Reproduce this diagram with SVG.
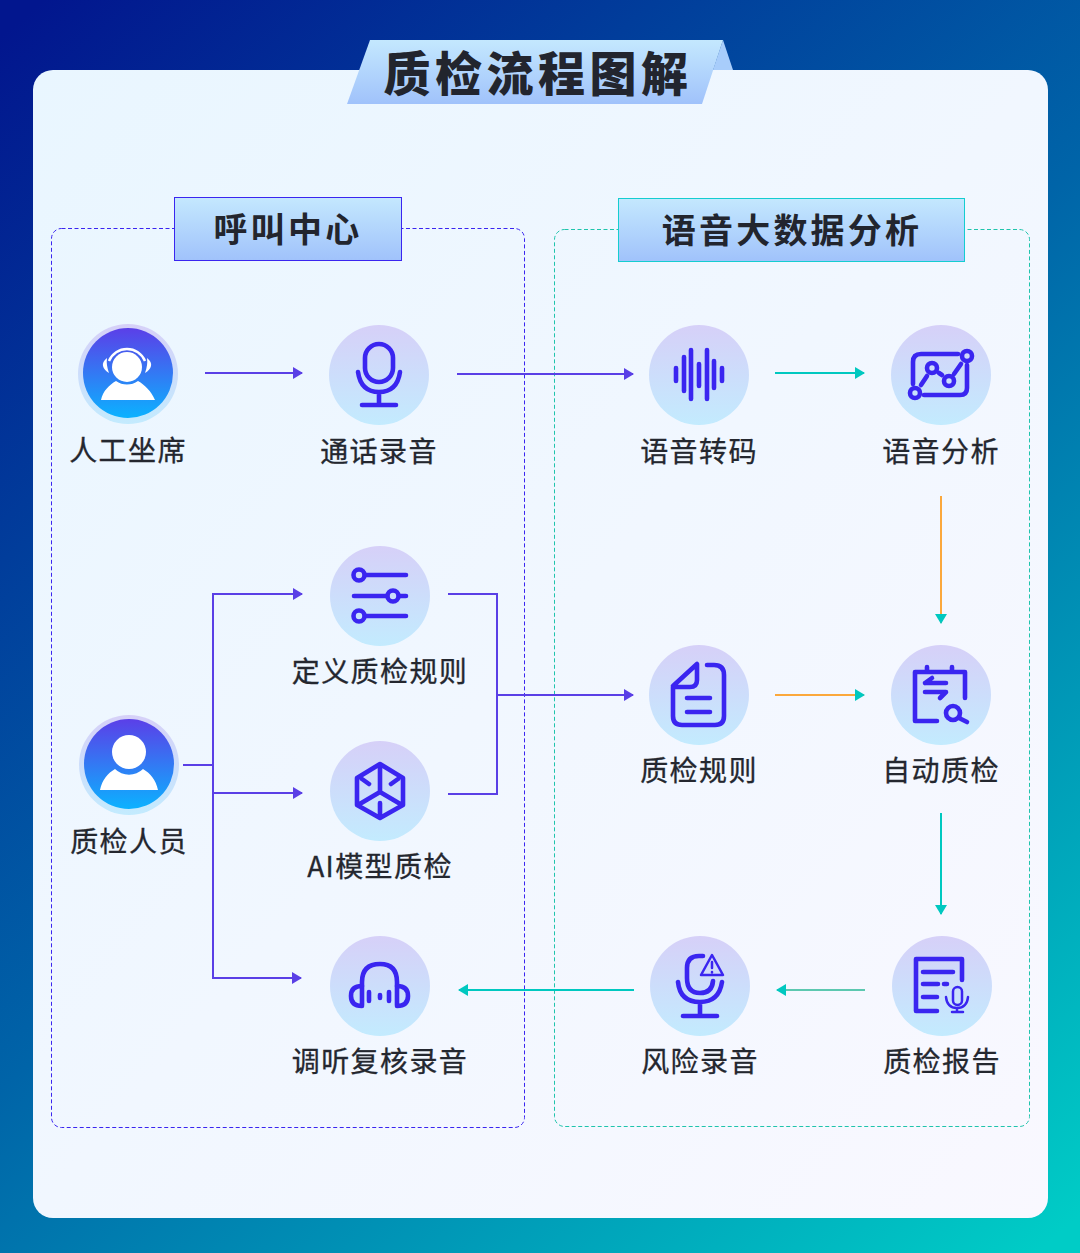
<svg xmlns="http://www.w3.org/2000/svg" width="1080" height="1253" viewBox="0 0 1080 1253">
<defs>
<linearGradient id="bg" gradientUnits="userSpaceOnUse" x1="20" y1="20" x2="1060" y2="1233"><stop offset="0" stop-color="#02168e"/><stop offset="0.5" stop-color="#0064a8"/><stop offset="1" stop-color="#00ccc6"/></linearGradient>
<linearGradient id="card" x1="0" y1="0" x2="1" y2="1"><stop offset="0" stop-color="#e9f6ff"/><stop offset="1" stop-color="#f9f8ff"/></linearGradient>
<linearGradient id="tag" x1="0" y1="0" x2="0" y2="1"><stop offset="0" stop-color="#c4e8fe"/><stop offset="1" stop-color="#a0c2fb"/></linearGradient>
<linearGradient id="disc" x1="0" y1="0" x2="0" y2="1"><stop offset="0" stop-color="#d6d0f8"/><stop offset="1" stop-color="#c3ebfe"/></linearGradient>
<linearGradient id="ava" x1="0" y1="0" x2="0" y2="1"><stop offset="0" stop-color="#5b3fe8"/><stop offset="1" stop-color="#0bb2ff"/></linearGradient>
<marker id="aP" markerUnits="userSpaceOnUse" markerWidth="10" markerHeight="12" refX="9" refY="6" orient="auto"><path d="M0 0L10 6L0 12Z" fill="#5a3fe6"/></marker>
<marker id="aT" markerUnits="userSpaceOnUse" markerWidth="10" markerHeight="12" refX="9" refY="6" orient="auto"><path d="M0 0L10 6L0 12Z" fill="#00c8c0"/></marker>
</defs>
<style>
.lb{font-family:"Noto Sans CJK SC","Noto Sans",sans-serif;font-size:28px;fill:#24272f;text-anchor:middle;letter-spacing:1.4px;font-weight:400;stroke:#24272f;stroke-width:0.300px}
.hd{font-family:"Noto Sans CJK SC",sans-serif;font-size:34px;font-weight:700;fill:#22252e;text-anchor:middle;letter-spacing:3.200px}
.ic{fill:none;stroke:#3a25f0;stroke-width:4.600;stroke-linecap:round;stroke-linejoin:round}
.ic3{fill:none;stroke:#3a25f0;stroke-width:2.500;stroke-linecap:round;stroke-linejoin:round}
.dc{fill:url(#disc)}
.cp{fill:none;stroke:#5a3fe6;stroke-width:2}
.ct{fill:none;stroke:#00c8c0;stroke-width:2}
.co{fill:none;stroke:#fba83c;stroke-width:2}
.cg{fill:none;stroke:#5cc8b0;stroke-width:2}
</style>
<rect width="1080" height="1253" fill="url(#bg)"/>
<path d="M723 40L733 70H713Z" fill="#a8cdfb"/>
<rect x="33" y="70" width="1015" height="1148" rx="20" fill="url(#card)"/>
<g id="title">
<path d="M370 40H723L702 104H347Z" fill="url(#tag)"/>
<text x="538" y="91" font-family="'Noto Sans CJK SC',sans-serif" font-size="47" font-weight="900" fill="#22252e" text-anchor="middle" letter-spacing="4.500">质检流程图解</text>
</g>
<g id="group-call">
<rect x="51.500" y="228.500" width="473" height="899" rx="10" fill="none" stroke="#3a25f0" stroke-dasharray="4 2.500"/>
<rect x="174.500" y="197.500" width="227" height="63" fill="url(#tag)" stroke="#3a25f0"/>
<text class="hd" x="288" y="242">呼叫中心</text>
</g>
<g id="group-speech">
<rect x="554.500" y="229.500" width="475" height="897" rx="10" fill="none" stroke="#1fc4ac" stroke-dasharray="4 2.500"/>
<rect x="618.500" y="198.500" width="346" height="63" fill="url(#tag)" stroke="#14cdd0"/>
<text class="hd" x="792" y="243">语音大数据分析</text>
</g>
<g id="connectors">
<path class="cp" d="M205 373H302" marker-end="url(#aP)"/>
<path class="cp" d="M457 374H633" marker-end="url(#aP)"/>
<path class="ct" d="M775 373H864" marker-end="url(#aT)"/>
<path class="co" d="M941 496V623" marker-end="url(#aT)"/>
<path class="ct" d="M941 813V914" marker-end="url(#aT)"/>
<path class="co" d="M775 695H864" marker-end="url(#aT)"/>
<path class="cg" d="M865 990H777" marker-end="url(#aT)"/>
<path class="ct" d="M634 990H459" marker-end="url(#aT)"/>
<path class="cp" d="M183 765H213"/>
<path class="cp" d="M213 594H302" marker-end="url(#aP)"/>
<path class="cp" d="M213 593V978H301" marker-end="url(#aP)"/>
<path class="cp" d="M213 793H302" marker-end="url(#aP)"/>
<path class="cp" d="M448 594H497V794H448"/>
<path class="cp" d="M497 695H633" marker-end="url(#aP)"/>
</g>
<g id="n-agent">
<circle cx="128" cy="374" r="50" class="dc"/><circle cx="128" cy="373" r="45" fill="url(#ava)"/>
<path d="M101 400C103 391 109 385 116 381A19 19 0 0 0 138 381C145 385 151 391 155 400Z" fill="#fff"/>
<circle cx="127" cy="367" r="15" fill="#fff"/>
<path d="M109 361A19.500 19.500 0 0 1 145 361" fill="none" stroke="#fff" stroke-width="2.500"/>
<path d="M107 358Q102 362 103 366Q104 370 109 373Q106 365 107 358ZM147 358Q152 362 151 366Q150 370 145 373Q148 365 147 358Z" fill="#fff"/>
<text class="lb" x="128" y="461">人工坐席</text>
</g>
<g id="n-record">
<circle cx="379" cy="375" r="50" class="dc"/>
<rect x="365" y="344" width="28" height="38" rx="14" class="ic"/>
<path class="ic" d="M358 372C360 386 368 392 379 392C390 392 398 386 400 372M379 392V405M362 405H396"/>
<text class="lb" x="379" y="462">通话录音</text>
</g>
<g id="n-transcode">
<circle cx="699" cy="375" r="50" class="dc"/>
<path class="ic" d="M676 368V381M684 357V391M691 350V399M699 364V386M707 350V399M714 361V388M722 368V381"/>
<text class="lb" x="699" y="462">语音转码</text>
</g>
<g id="n-analysis">
<circle cx="941" cy="375" r="50" class="dc"/>
<path class="ic" d="M913 384V362Q913 354 921 354H958M967 365V388Q967 395 960 395H924" />
<path class="ic" d="M921 385L927 376M939 373L942 375M954 374L961 364"/>
<circle cx="915" cy="393" r="5" class="ic"/><circle cx="932" cy="368" r="5" class="ic"/><circle cx="949" cy="381" r="5" class="ic"/><circle cx="967" cy="356" r="5" class="ic"/>
<text class="lb" x="941" y="462">语音分析</text>
</g>
<g id="n-define">
<circle cx="380" cy="596" r="50" class="dc"/>
<path class="ic" d="M366 575H406M354 596H387M400 596H406M366 616H406"/>
<circle cx="359" cy="575" r="5.500" class="ic"/><circle cx="393" cy="596" r="5.500" class="ic"/><circle cx="359" cy="616" r="5.500" class="ic"/>
<text class="lb" x="380" y="682">定义质检规则</text>
</g>
<g id="n-ai">
<circle cx="380" cy="791" r="50" class="dc"/>
<path class="ic" d="M380 764L403 778V805L380 818L357 805V778ZM380 764V792M358 805L380 792L402 805M380 803V815M362 779L369 784M398 779L391 784"/>
<text class="lb" x="380" y="877">AI模型质检</text>
</g>
<g id="n-inspector">
<circle cx="129" cy="765" r="50" class="dc"/><circle cx="129" cy="764" r="45" fill="url(#ava)"/>
<path d="M100 790C102 780 108 773 115 769A20 20 0 0 0 143 769C150 773 156 780 158 790Z" fill="#fff"/>
<circle cx="129" cy="752" r="17" fill="#fff"/>
<text class="lb" x="129" y="852">质检人员</text>
</g>
<g id="n-review">
<circle cx="380" cy="986" r="50" class="dc"/>
<path class="ic" d="M362 1005V982Q362 964 380 964Q397 964 397 982V1005"/>
<path class="ic" d="M362 986Q351 986 351 996Q351 1006 362 1006M397 986Q408 986 408 996Q408 1006 397 1006"/>
<path class="ic" d="M369 992V1001M380 995V998M389 992V1001"/>
<text class="lb" x="380" y="1072">调听复核录音</text>
</g>
<g id="n-rules">
<circle cx="699" cy="695" r="50" class="dc"/>
<path class="ic" d="M673 686L697 664V680Q697 687 690 687H673V716Q673 725 682 725H715Q724 725 724 716V675Q724 665 714 665H707M687 698H710M687 712H710"/>
<text class="lb" x="699" y="781">质检规则</text>
</g>
<g id="n-auto">
<circle cx="941" cy="695" r="50" class="dc"/>
<path class="ic" d="M965 698V672H915V721H937M927 667V672M952 667V672M925 683H946M925 683L932 678M925 692H946L940 698"/>
<circle cx="953" cy="713" r="7" class="ic"/><path class="ic" d="M959 718L967 722"/>
<text class="lb" x="941" y="781">自动质检</text>
</g>
<g id="n-risk">
<circle cx="700" cy="986" r="50" class="dc"/>
<path class="ic" d="M703 956H699Q687 956 687 968V978Q687 993 700 993Q712 993 713 981M678 982Q680 1002 700 1002Q719 1002 722 982M700 1002V1016M683 1016H717"/>
<path class="ic3" d="M712 955L723 975H701Z"/><path d="M712 962V968M712 972V972.500" class="ic3"/>
<text class="lb" x="700" y="1072">风险录音</text>
</g>
<g id="n-report">
<circle cx="942" cy="986" r="50" class="dc"/>
<path class="ic" d="M962 980V959H916V1011H937M923 972H953M923 984H938M944 984H947M923 997H937"/>
<rect x="953" y="987" width="9" height="18" rx="4.500" class="ic3" stroke-width="3"/>
<path class="ic3" d="M946 997Q947 1008 957 1008Q967 1008 968 997M957 1008V1012M952 1012H963"/>
<text class="lb" x="942" y="1072">质检报告</text>
</g>
</svg>
